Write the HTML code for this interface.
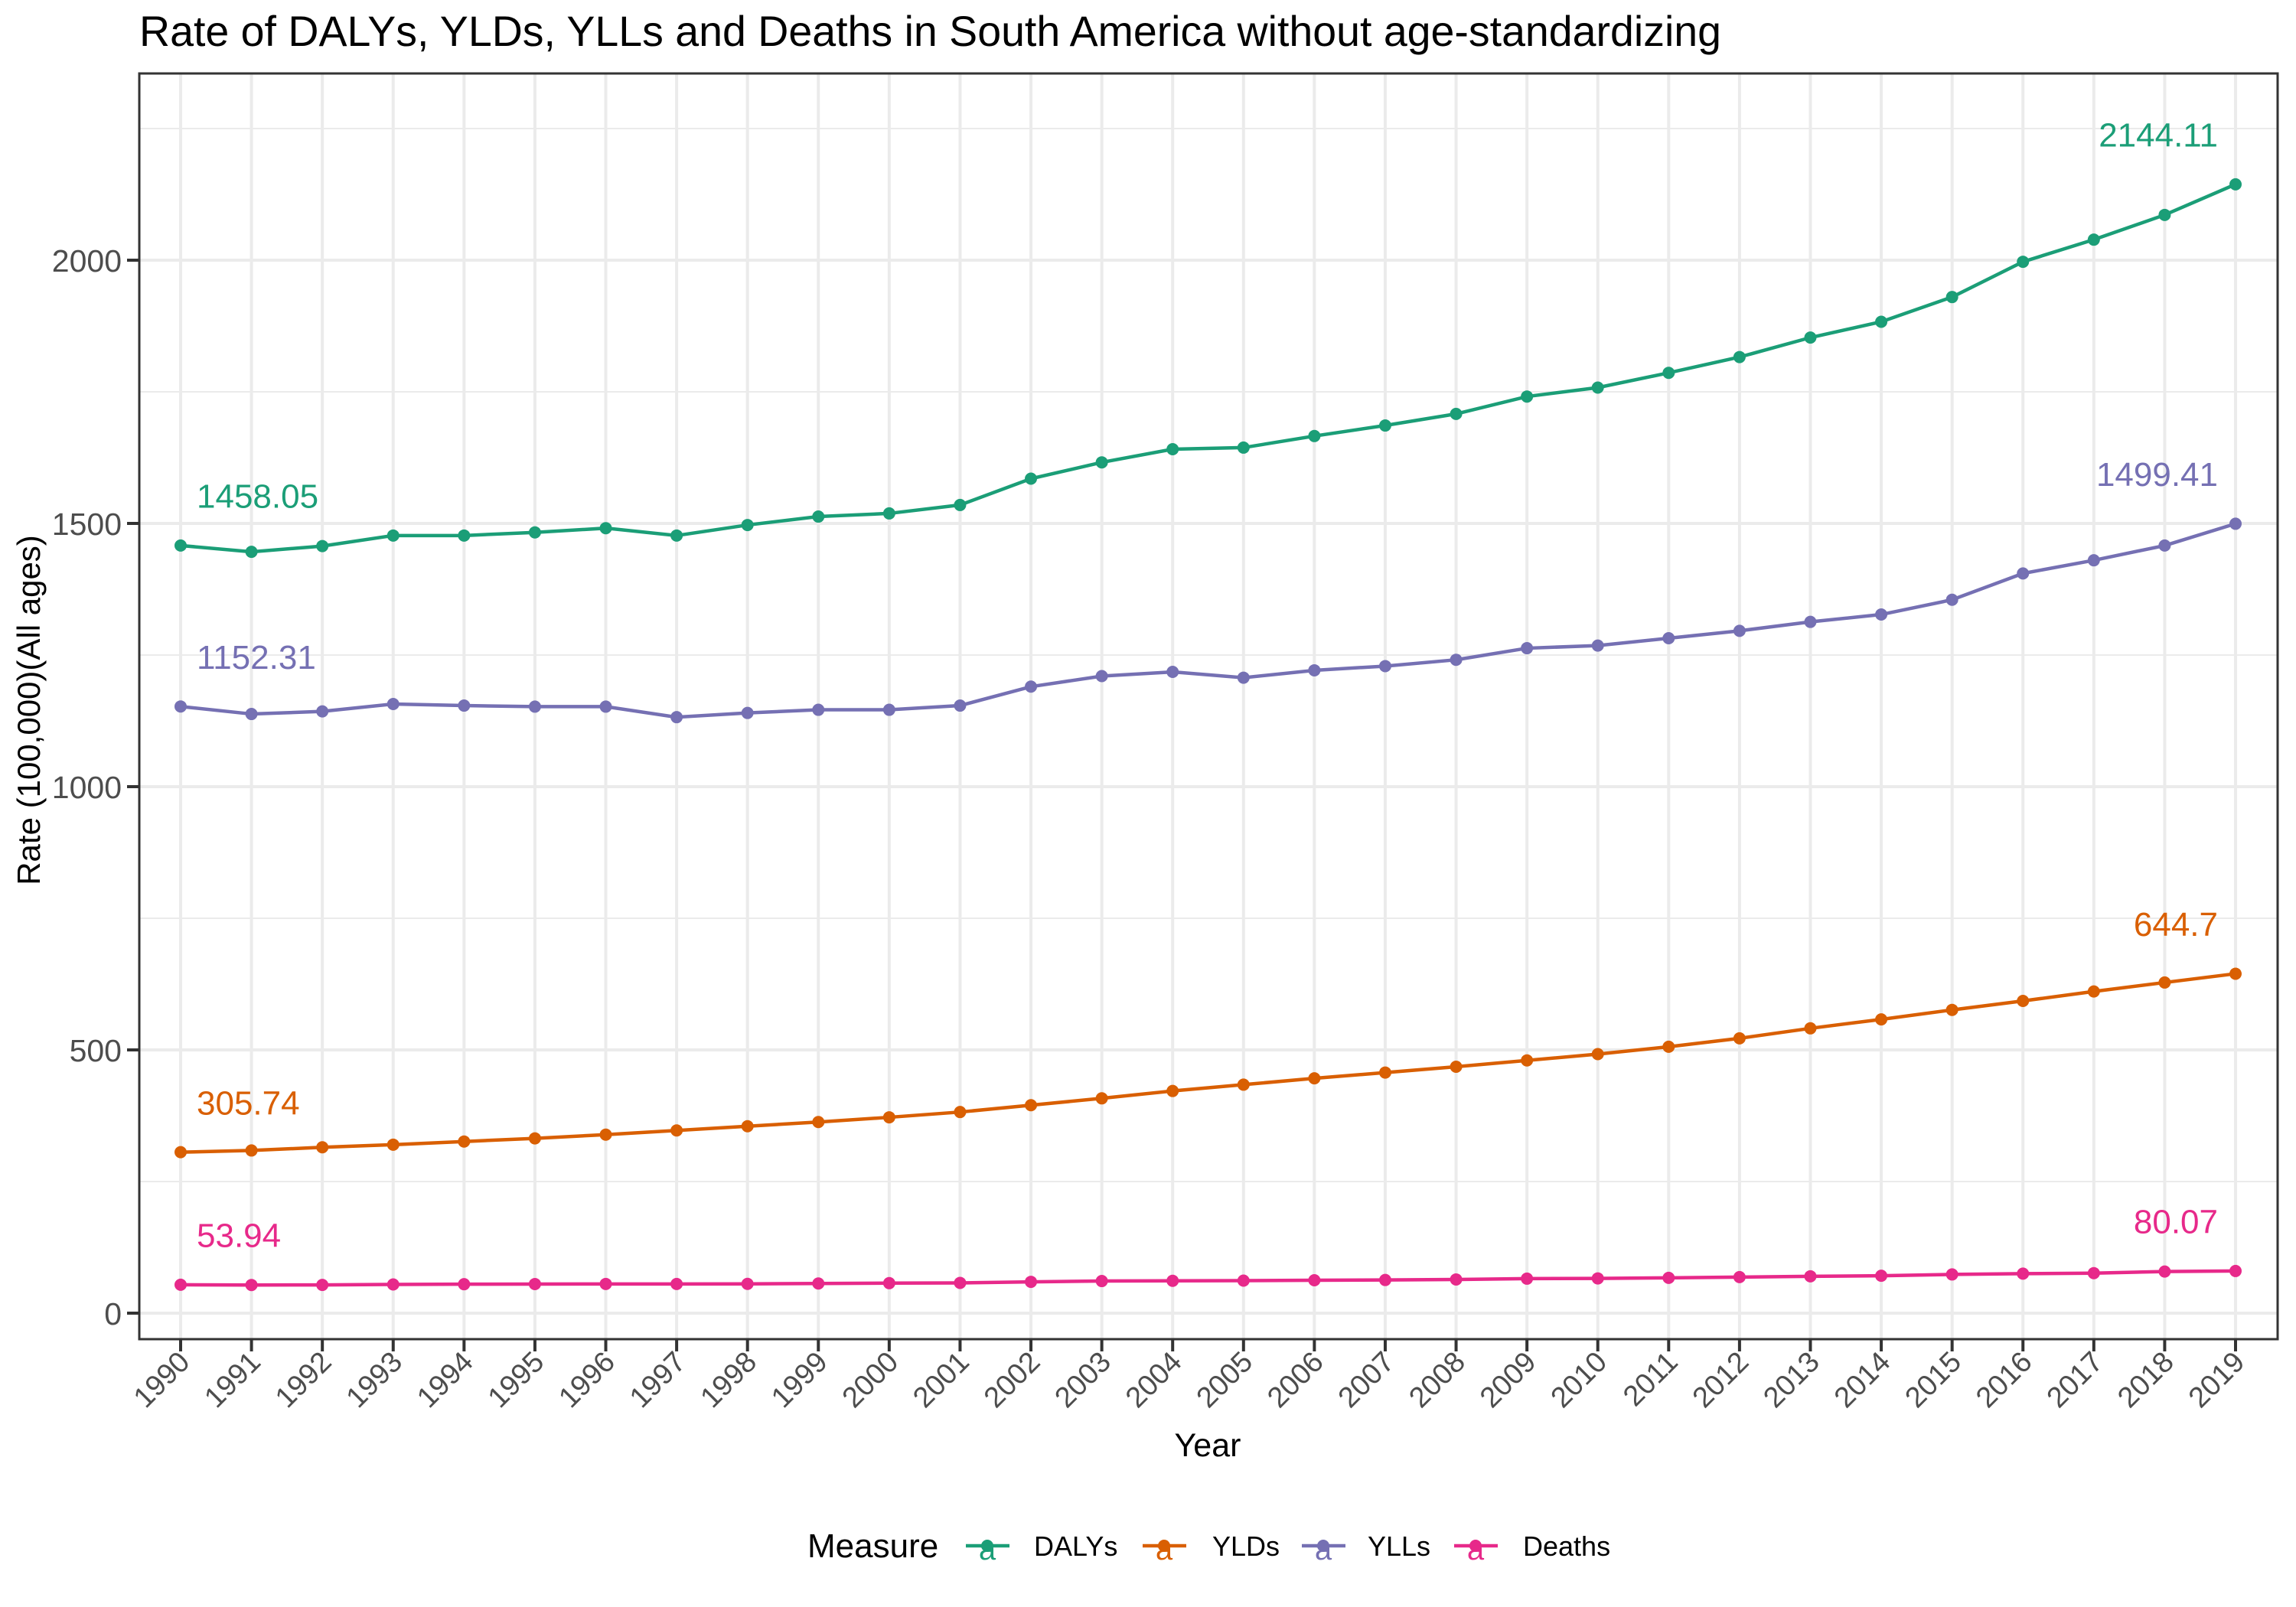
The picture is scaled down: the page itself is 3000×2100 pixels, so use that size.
<!DOCTYPE html>
<html><head><meta charset="utf-8"><style>
html,body{margin:0;padding:0;background:#fff;}
svg{display:block;font-family:"Liberation Sans",Arial,sans-serif;}
</style></head><body>
<svg id="chart" width="3000" height="2100" viewBox="0 0 3000 2100" xmlns="http://www.w3.org/2000/svg">
<text x="182" y="60" font-size="55.5" fill="#000">Rate of DALYs, YLDs, YLLs and Deaths in South America without age-standardizing</text>
<rect x="182" y="96" width="2794" height="1654" fill="#fff"/>
<g id="grid"></g>
<g id="series"></g>
<rect x="182" y="96" width="2794" height="1654" fill="none" stroke="#333" stroke-width="3"/>
<g id="axes"></g>
<text x="1578" y="1903" font-size="43" text-anchor="middle" fill="#000">Year</text>
<text transform="translate(52,928) rotate(-90)" font-size="42" text-anchor="middle" fill="#000">Rate (100,000)(All ages)</text>
<g id="legend">
<text x="1055" y="2035" font-size="44" fill="#000">Measure</text>
</g>
</svg>
<script>
const years = [1990,1991,1992,1993,1994,1995,1996,1997,1998,1999,2000,2001,2002,2003,2004,2005,2006,2007,2008,2009,2010,2011,2012,2013,2014,2015,2016,2017,2018,2019];
const dalys = [1458.05,1446,1457,1477,1477,1483,1491,1477,1497,1513,1519,1535,1585,1616,1641,1644,1666,1686,1708,1741,1758,1786,1816,1853,1883,1930,1997,2039,2086,2144.11];
const yllsVals = [1152.31,1138,1143,1157,1154,1152,1152,1132,1140,1146,1146,1154,1190,1210,1218,1207,1221,1229,1241,1263,1268,1282,1296,1313,1327,1355,1405,1430,1458,1499.41];
const yldsVals = [305.74,309,315,320,326,332,339,347,355,363,372,382,395,408,422,434,446,457,468,480,492,506,522,541,558,576,593,611,628,644.7];
const deathsVals = [53.94,53.5,53.6,54.5,55,55.3,55.5,55.4,55.6,56.3,57,57.5,59.5,61,61.5,61.8,62.5,63,64,65.5,66,67,68.5,70,71,73.5,75,76,79,80.07];
const seriesNames = ["DALYs","YLDs","YLLs","Deaths"];
const yTicks = [0,500,1000,1500,2000];
const yMinor = [250,750,1250,1750,2250];

const NS="http://www.w3.org/2000/svg";
const X0=236, XS=(2921-236)/29, Y0=1716, YS=(1716-340)/2000;
const PT=96, PB=1750;
const x = yr => X0 + (yr-1990)*XS;
const y = v => Y0 - v*YS;
function mk(tag, attrs, parent){const e=document.createElementNS(NS,tag);for(const k in attrs)e.setAttribute(k,attrs[k]);parent.appendChild(e);return e;}
const grid=document.getElementById('grid'), axes=document.getElementById('axes'), ser=document.getElementById('series'), leg=document.getElementById('legend');

yMinor.forEach(v=>{const l=mk('line',{x1:182,x2:2976,y1:y(v),y2:y(v),stroke:'#ebebeb','stroke-width':2},grid);

});
yTicks.forEach(v=>{const l=mk('line',{x1:182,x2:2976,y1:y(v),y2:y(v),stroke:'#ebebeb','stroke-width':4},grid);


const t=mk('line',{x1:166,x2:182,y1:y(v),y2:y(v),stroke:'#333','stroke-width':4},axes);


const tx=mk('text',{x:159,y:y(v)+15,'font-size':41,'text-anchor':'end',fill:'#4d4d4d'},axes);tx.textContent=v;

});
years.forEach(yr=>{const l=mk('line',{x1:x(yr),x2:x(yr),y1:PT,y2:PB,stroke:'#ebebeb','stroke-width':4},grid);


const t=mk('line',{x1:x(yr),x2:x(yr),y1:PB,y2:PB+16,stroke:'#333','stroke-width':4},axes);


const tx=mk('text',{transform:`translate(${x(yr)+14},${PB+32}) rotate(-45)`,'font-size':38,'text-anchor':'end',fill:'#4d4d4d'},axes);tx.textContent=yr;

});

const data=[dalys,yldsVals,yllsVals,deathsVals];
const colors=["#1B9E77","#D95F02","#7570B3","#E7298A"];
data.forEach((vals,i)=>{
  const g=mk('g',{},ser);
  
  
  const p=mk('polyline',{points:vals.map((v,j)=>x(years[j])+','+y(v)).join(' '),fill:'none',stroke:colors[i],'stroke-width':4.5},g);
  
  
  vals.forEach((v,j)=>{const c=mk('circle',{cx:x(years[j]),cy:y(v),r:8,fill:colors[i]},g);
    
    });
  const a=mk('text',{x:x(1990)+21,y:y(vals[0]+95)+16,'font-size':44,fill:colors[i]},g);a.textContent=vals[0];
  
  
  const b=mk('text',{x:x(2019)-23,y:y(vals[29]+95)+16,'font-size':44,'text-anchor':'end',fill:colors[i]},g);b.textContent=vals[29];
  
  
});
const keyX=[1262,1493,1701,1900], labX=[1351,1584,1787,1990];
seriesNames.forEach((n,i)=>{
  const g=mk('g',{},leg);
  
  
  mk('line',{x1:keyX[i],x2:keyX[i]+57,y1:2020,y2:2020,stroke:colors[i],'stroke-width':4.5},g);
  mk('circle',{cx:keyX[i]+28,cy:2020,r:8,fill:colors[i]},g);
  const a=mk('text',{x:keyX[i]+28,y:2038,'font-size':40,'text-anchor':'middle',fill:colors[i]},g);a.textContent='a';
  const t=mk('text',{x:labX[i],y:2033,'font-size':36,fill:'#000'},g);t.textContent=n;
});
</script>
</body></html>
